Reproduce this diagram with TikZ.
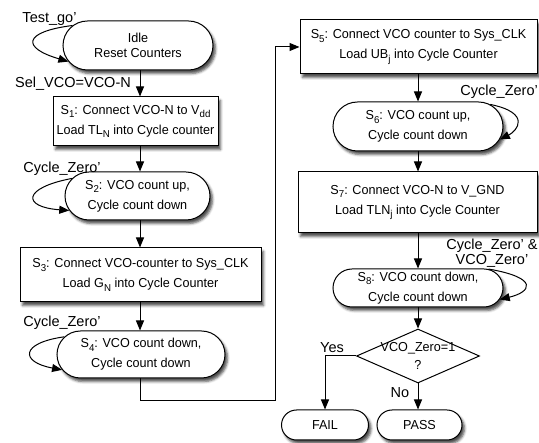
\documentclass[tikz,border=0pt]{standalone}
\usepackage{fontspec}
\setmainfont{Liberation Sans}
\newfontfamily\nodefont[FakeStretch=0.97]{Liberation Sans}
\newcommand\mysub[1]{\raisebox{-3.5pt}{\fontsize{10}{10}\selectfont #1}}
\usetikzlibrary{shapes.misc,shapes.geometric,arrows.meta,shadows.blur}
\begin{document}
\begin{tikzpicture}[x=1pt,y=-1pt,
  every node/.style={inner sep=0pt},
  shd/.style={blur shadow={shadow xshift=2.5pt,shadow yshift=-3.5pt,shadow blur radius=2.5pt,shadow opacity=70}},
  rect/.style={draw,line width=1pt,fill=white,align=center,shd,font=\nodefont\fontsize{13}{20}\selectfont},
  state/.style={rounded rectangle,draw,line width=1pt,fill=white,align=center,shd,font=\nodefont\fontsize{13}{20}\selectfont},
  arr/.style={line width=1pt,-{Triangle[length=10pt,width=8pt]}},
  lbl/.style={font=\fontsize{14.5}{15}\selectfont}]
\useasboundingbox (0,0) rectangle (539,443);
\coordinate (colL) at (140,0);
\coordinate (colR) at (418,0);
% left column
\node[state,minimum width=150pt,minimum height=49pt,font=\nodefont\fontsize{13}{15}\selectfont] (idle) at (138,45.5) {Idle\\Reset Counters};
\node[rect,minimum width=165pt,minimum height=49pt] (s1) at (135.5,121.5) {S\mysub{1}: Connect VCO-N to V\mysub{dd}\\Load TL\mysub{N} into Cycle counter};
\node[state,minimum width=145pt,minimum height=48pt] (s2) at (137.5,196) {S\mysub{2}: VCO count up,\\Cycle count down};
\node[rect,minimum width=241pt,minimum height=54pt] (s3) at (140.5,275) {S\mysub{3}: Connect VCO-counter to Sys\_CLK\\Load G\mysub{N} into Cycle Counter};
\node[state,minimum width=168pt,minimum height=47pt] (s4) at (141,354.5) {S\mysub{4}: VCO count down,\\Cycle count down};
% right column
\node[rect,minimum width=237pt,minimum height=54pt] (s5) at (418.5,47) {S\mysub{5}: Connect VCO counter to Sys\_CLK\\Load UB\mysub{j} into Cycle Counter};
\node[state,minimum width=170pt,minimum height=49pt] (s6) at (418,126.5) {S\mysub{6}: VCO count up,\\Cycle count down};
\node[rect,minimum width=239pt,minimum height=61pt] (s7) at (417.5,202.5) {S\mysub{7}: Connect VCO-N to V\_GND\\Load TLN\mysub{j} into Cycle Counter};
\node[state,minimum width=170pt,minimum height=38pt] (s8) at (418,288) {S\mysub{8}: VCO count down,\\Cycle count down};
\node[diamond,draw,line width=1pt,fill=white,minimum width=123pt,minimum height=54pt,
  label={[align=center,font=\nodefont\fontsize{13}{18}\selectfont]center:VCO\_Zero=1\\?}] (d) at (418,356) {};
\node[state,minimum width=87pt,minimum height=30pt] (fail) at (325,425) {FAIL};
\node[state,minimum width=85pt,minimum height=30pt] (pass) at (419.5,425) {PASS};
% labels
\node[lbl,anchor=base] (tg) at (49.5,23) {Test\_go'};
\node[lbl,anchor=base] (sel) at (73,88) {Sel\_VCO=VCO-N};
\node[lbl,anchor=base] (cz1) at (62,173) {Cycle\_Zero'};
\node[lbl,anchor=base] (cz2) at (62,327) {Cycle\_Zero'};
\node[lbl,anchor=base east] (cz3) at (538,96) {Cycle\_Zero'};
\node[lbl,align=center] (cz4) at (492,253) {Cycle\_Zero' \&\\VCO\_Zero'};
\node[lbl,anchor=base] (yes) at (332,353) {Yes};
\node[lbl,anchor=base] (no) at (400,398) {No};
% straight connectors
\draw[arr] (idle.south -| colL) -- (s1.north -| colL);
\draw[arr] (s1.south -| colL) -- (s2.north -| colL);
\draw[arr] (s2.south -| colL) -- (s3.north -| colL);
\draw[arr] (s3.south -| colL) -- (s4.north -| colL);
\coordinate (c1) at (275,401);
\draw[arr] (s4.south -| colL) |- (c1) |- (s5.west);
\draw[arr] (s5.south -| colR) -- (s6.north -| colR);
\draw[arr] (s6.south -| colR) -- (s7.north -| colR);
\draw[arr] (s7.south -| colR) -- (s8.north -| colR);
\draw[arr] (s8.south -| colR) -- (d.north -| colR);
\draw[arr] (d.south -| colR) -- (pass.north -| colR);
\draw[arr] (d.west) -| (fail.north);
% self loops
\draw[arr] (idle.163) .. controls (22,32) and (22,48) .. (idle.193);
\draw[arr] (s2.165) .. controls (22,188) and (22,207) .. (s2.192);
\draw[arr] (s4.167) .. controls (20,343) and (20,362) .. (s4.191);
\draw[arr] (s6.17) .. controls (532,113) and (517,131) .. (s6.351);
\draw[arr] (s8.15) .. controls (540,278) and (531,292) .. (s8.352);
\end{tikzpicture}
\end{document}
